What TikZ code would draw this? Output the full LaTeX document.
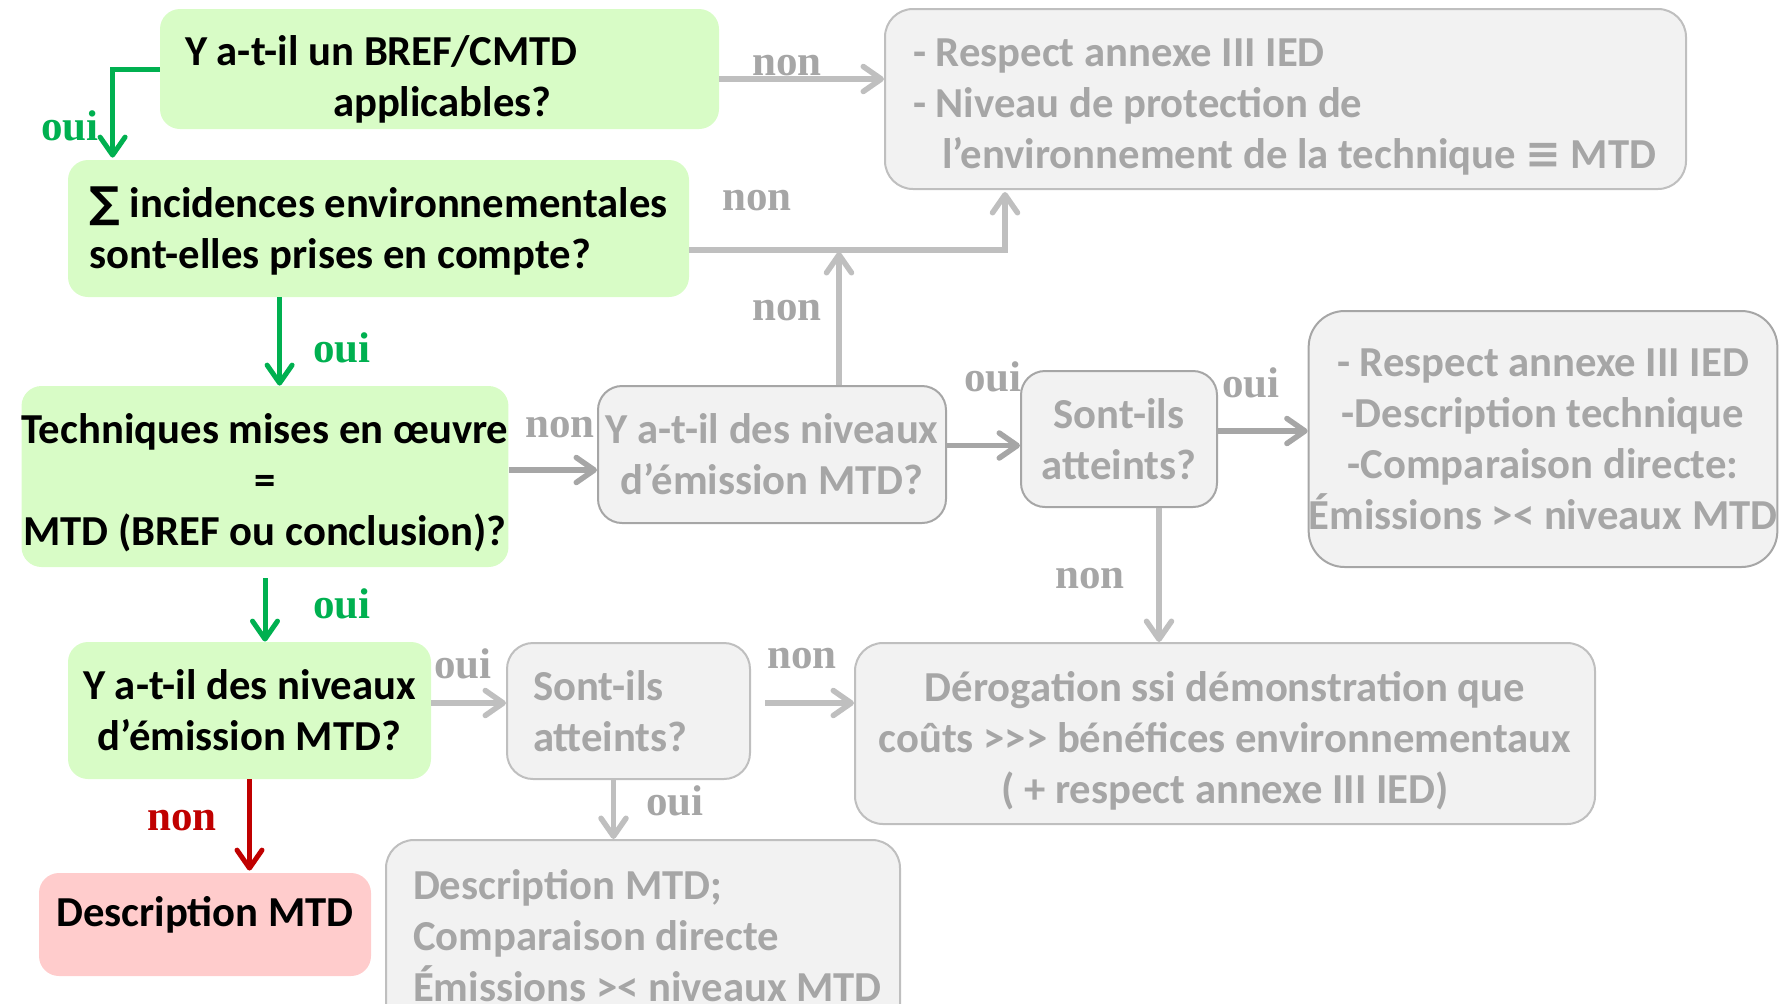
\documentclass[tikz,border=0pt]{standalone}
\usepackage{fontspec}
\setmainfont{Carlito}
\newfontfamily\labfont{Liberation Serif}
\newfontfamily\symfont{DejaVu Sans}
\usetikzlibrary{arrows.meta,calc}
\definecolor{gfill}{HTML}{D8FCC6}
\definecolor{rfill}{HTML}{FFCCCC}
\definecolor{xfill}{HTML}{F2F2F2}
\definecolor{xline}{HTML}{A6A6A6}
\definecolor{xline2}{HTML}{BFBFBF}
\definecolor{xtext}{HTML}{A6A6A6}
\definecolor{ggreen}{HTML}{00B050}
\definecolor{rred}{HTML}{C00000}
\definecolor{arrl}{HTML}{BFBFBF}
\definecolor{arrd}{HTML}{A6A6A6}
\begin{document}
\begin{tikzpicture}[x=0.5pt,y=-0.5pt,
  box/.style={rounded corners=10pt, inner sep=0pt, font=\bfseries\fontsize{21.35pt}{25.5pt}\selectfont},
  gbox/.style={box, fill=gfill, text=black},
  rbox/.style={box, fill=rfill, text=black},
  xbox/.style={box, fill=xfill, draw=xline, line width=1pt, text=xtext, rounded corners=12pt},
  ybox/.style={box, fill=xfill, draw=xline2, line width=1pt, text=xtext, rounded corners=13pt},
  lab/.style={font=\labfont\bfseries\fontsize{21.5pt}{24pt}\selectfont, anchor=base, inner sep=0pt},
  glab/.style={lab, text=ggreen},
  rlab/.style={lab, text=rred},
  xlab/.style={lab, text=xtext},
  arr/.style={line width=2.75pt, -{Straight Barb[round,length=9pt,width=12.5pt]}},
  larr/.style={arr, draw=arrl},
  darr/.style={arr, draw=arrd},
  garr/.style={line width=2.5pt, draw=ggreen, -{Straight Barb[round,length=9pt,width=12.5pt]}},
  rarr/.style={line width=2.5pt, draw=rred, -{Straight Barb[round,length=9pt,width=12.5pt]}}
]
\useasboundingbox (0,0) rectangle (1789,1003);
\clip (0,0) rectangle (1789,1003);

% boxes
\node[gbox, text width=254.5pt, inner xsep=12.5pt, minimum height=60pt, align=flush left] (A) at (439.5,69)
  {\rule{0pt}{25.5pt}Y a-t-il un BREF/CMTD\\\hspace*{74pt}applicables?};
\node[gbox, minimum width=310.5pt, minimum height=68.5pt, align=left] (B) at (378.5,228.5)
  {\rule{0pt}{17.5pt}{\symfont ∑} incidences environnementales\\sont-elles prises en compte?};
\node[gbox, minimum width=242pt, minimum height=90.5pt, align=center] (C) at (265,476.5)
  {\rule{0pt}{21pt}Techniques mises en œuvre\\=\\MTD (BREF ou conclusion)?};
\node[gbox, minimum width=181.5pt, minimum height=68.5pt, align=center] (D) at (249.5,710.5)
  {Y a-t-il des niveaux\\d’émission MTD?};
\node[rbox, minimum width=166pt, minimum height=51.5pt, align=center] (E) at (205,924.5)
  {Description MTD\rule[-13pt]{0pt}{13pt}};

\node[ybox, text width=372.5pt, inner xsep=14pt, minimum height=90pt, align=flush left, rounded corners=14pt] (F) at (1285.5,99)
  {\rule{0pt}{21.5pt}\mbox{- Respect annexe III IED}\\\mbox{- Niveau de protection de}\\\mbox{\hspace*{14.5pt}l’environnement de la technique {\symfont ≡} MTD}};
\node[xbox, minimum width=174pt, minimum height=68.5pt, align=center] (G) at (772,454.5)
  {Y a-t-il des niveaux\\d’émission MTD?};
\node[xbox, minimum width=98pt, minimum height=68pt, align=center] (H) at (1119,439)
  {Sont-ils\\atteints?};
\node[xbox, minimum width=234pt, minimum height=128pt, align=center, rounded corners=18pt] (I) at (1543,439)
  {- Respect annexe III IED\\-Description technique\\-Comparaison directe:\\Émissions >< niveaux MTD};
\node[ybox, text width=95.5pt, inner xsep=13pt, minimum height=68pt, align=flush left] (J) at (628.5,711)
  {Sont-ils\\atteints?};
\node[ybox, minimum width=370pt, minimum height=90.5pt, align=center, rounded corners=14pt] (K) at (1225,733.5)
  {\rule{0pt}{22pt}Dérogation ssi démonstration que\\coûts >{}>{}> bénéfices environnementaux\\( + respect annexe III IED)};
\node[ybox, text width=230pt, inner xsep=13.5pt, minimum height=96pt, align=flush left, rounded corners=14pt] (L) at (643,936)
  {\mbox{Description MTD;}\\\mbox{Comparaison directe}\\\mbox{Émissions >< niveaux MTD}};

% connector end points
\coordinate (a1) at ($(A.east)+(0,10)$);
\coordinate (b1) at ($(B.east)+(0,21.5)$);
\coordinate (f1) at ($(F.south west)+(121,2)$);
\coordinate (g1) at ($(G.north west)+(242,0)$);
\coordinate (g2) at ($(G.north west)+(242,-133)$);
\coordinate (bs) at ($(B.south west)+(212,0)$);
\coordinate (c1) at ($(C.east)+(0,-6.5)$);
\coordinate (g3) at ($(G.east)+(0,-9)$);
\coordinate (h1) at ($(H.east)+(0,-8)$);
\coordinate (h2) at ($(H.south)+(40,0)$);
\coordinate (cs) at ($(C.south)+(0,11)$);
\coordinate (d1) at ($(D.east)+(0,-7.5)$);
\coordinate (j1) at ($(J.east)+(14,-8)$);
\coordinate (j2) at ($(J.south)+(-15,0)$);
\coordinate (bn) at ($(B.north west)+(45,-2)$);
\coordinate (en) at ($(E.north)+(0,-2)$);

% connectors
\draw[garr] (A.west) -| (bn);
\draw[larr] (a1) -- (a1 -| F.west);
\draw[larr] (b1) -| (f1);
\draw[larr] (g1) -- (g2);
\draw[garr] (bs) -- (bs |- C.north);
\draw[darr] (c1) -- (c1 -| G.west);
\draw[darr] (g3) -- (g3 -| H.west);
\draw[darr] (h1) -- (h1 -| I.west);
\draw[larr] (h2) -- (h2 |- K.north);
\draw[garr] (cs) -- (cs |- D.north);
\draw[larr] (d1) -- (d1 -| J.west);
\draw[larr] (j1) -- (j1 -| K.west);
\draw[larr] (j2) -- (j2 |- L.north);
\draw[rarr] (D.south) -- (D.south |- en);

% labels
\node[glab] (l1) at (70,140) {oui};
\node[xlab] (l2) at (787,75) {non};
\node[xlab] (l3) at (757,210) {non};
\node[xlab] (l4) at (787,320) {non};
\node[glab] (l5) at (342,362) {oui};
\node[xlab] (l6) at (560,437) {non};
\node[glab] (l7) at (342,618) {oui};
\node[xlab] (l8) at (993,391) {oui};
\node[xlab] (l9) at (1251,397) {oui};
\node[xlab] (l10) at (1090,588) {non};
\node[xlab] (l11) at (463,678) {oui};
\node[xlab] (l12) at (802,668) {non};
\node[xlab] (l13) at (675,815) {oui};
\node[rlab] (l14) at (182,830) {non};
\end{tikzpicture}
\end{document}
